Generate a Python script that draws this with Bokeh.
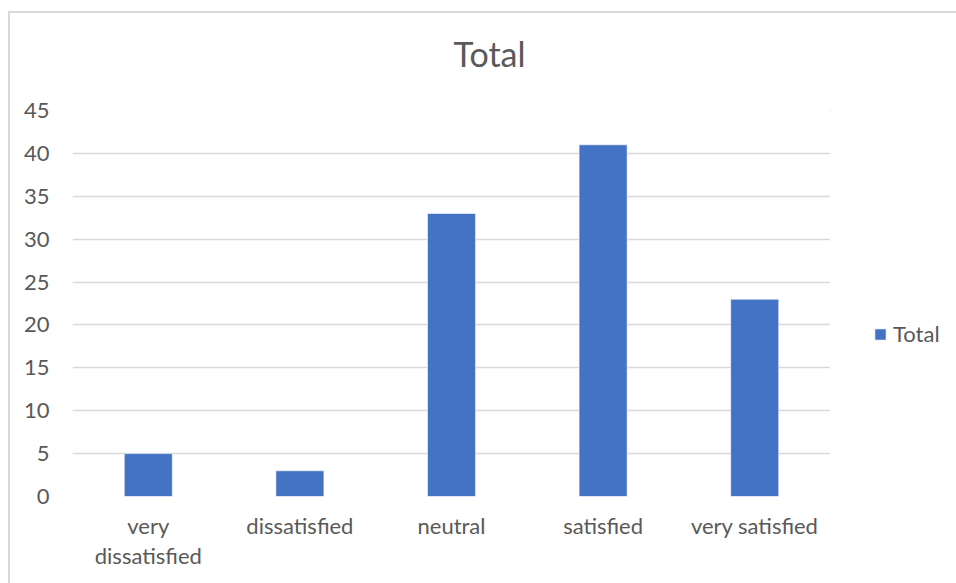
from bokeh.plotting import figure
from bokeh.models import (ColumnDataSource, Legend, LegendItem, Range1d,
                          FixedTicker, LinearAxis, Title)
from bokeh.layouts import row
from bokeh.embed import file_html
from bokeh.resources import INLINE

# Survey responses by satisfaction level
categories = ["very dissatisfied", "dissatisfied", "neutral", "satisfied", "very satisfied"]
totals = [5, 3, 33, 41, 23]
y_ticks = [0, 5, 10, 15, 20, 25, 30, 35, 40, 45]
series_name = "Total"

# Category names split over two label rows
label_row1 = ["very", "dissatisfied", "neutral", "satisfied", "very satisfied"]
label_row2 = ["dissatisfied", " ", " ", " ", " "]

FONT = "Lato"
TEXT = "#595959"
GRID = "#d9d9d9"
BAR = "#4472C4"

positions = list(range(len(categories)))
source = ColumnDataSource(data=dict(x=positions, category=categories, total=totals))
bar_style = dict(width=0.317, fill_color=BAR, line_color="white", line_width=0.6)

# Main chart
p = figure(
    x_range=Range1d(-0.5, len(categories) - 0.5),
    y_range=Range1d(0, 45),
    width=820,
    height=570,
    output_backend="svg",
    toolbar_location=None,
    min_border_left=62,
    min_border_right=0,
    min_border_top=97,
    min_border_bottom=87,
    x_axis_location=None,
    title_location=None,
)
p.outline_line_color = None
p.background_fill_color = "white"
p.border_fill_color = "white"

p.vbar(x="x", top="total", source=source, **bar_style)

# Heading: a thin empty band next to the frame, then the title text above it
p.add_layout(Title(text=" ", text_font_size="1px", standoff=34), "above")
p.add_layout(Title(text=series_name, align="left", offset=381, standoff=0,
                   text_font=FONT, text_font_size="34px",
                   text_font_style="normal", text_color=TEXT), "above")

# Axes: two stacked category label rows below, values on the left
x1 = LinearAxis(ticker=FixedTicker(ticks=positions),
                major_label_overrides=dict(zip(positions, label_row1)),
                major_label_standoff=15)
x2 = LinearAxis(ticker=FixedTicker(ticks=positions),
                major_label_overrides=dict(zip(positions, label_row2)),
                major_label_standoff=0)
p.add_layout(x1, "below")
p.add_layout(x2, "below")
p.yaxis.ticker = FixedTicker(ticks=y_ticks)
p.yaxis.major_label_standoff = 23
for ax in (x1, x2, p.yaxis[0]):
    ax.axis_line_color = None
    ax.major_tick_line_color = None
    ax.minor_tick_line_color = None
    ax.major_tick_out = 0
    ax.major_tick_in = 0
    ax.major_label_text_font = FONT
    ax.major_label_text_font_size = "22px"
    ax.major_label_text_color = TEXT

p.xgrid.grid_line_color = None
p.ygrid.grid_line_color = GRID
p.ygrid.grid_line_width = 1.3

# Legend strip to the right of the chart (its frame lines up with the
# chart's frame). The series is attached here only to style the legend
# key; both ranges keep its bars out of this strip's view.
lg = figure(
    x_range=Range1d(10, 11), y_range=Range1d(-2, -1),
    width=126, height=570,
    output_backend="svg", toolbar_location=None,
    min_border=0, x_axis_location=None, y_axis_location=None,
    title_location=None,
)
lg.outline_line_color = None
lg.grid.visible = False
lg.background_fill_color = "white"
lg.border_fill_color = "white"
key = lg.vbar(x="x", top="total", source=source, **bar_style)
legend = Legend(items=[LegendItem(label=series_name, renderers=[key])],
                location=(43, 149), orientation="vertical",
                border_line_color=None, background_fill_alpha=0,
                padding=0, margin=0, glyph_width=14, glyph_height=14,
                label_standoff=6, label_text_font=FONT,
                label_text_font_size="22px", label_text_color=TEXT)
lg.add_layout(legend)

# Chart border along the visible left and top edges
root = row(p, lg, spacing=0, styles={
    "margin-left": "8px",
    "margin-top": "11px",
    "border-left": f"2px solid {GRID}",
    "border-top": f"2px solid {GRID}",
})

open("out.html", "w").write(file_html(root, INLINE))
